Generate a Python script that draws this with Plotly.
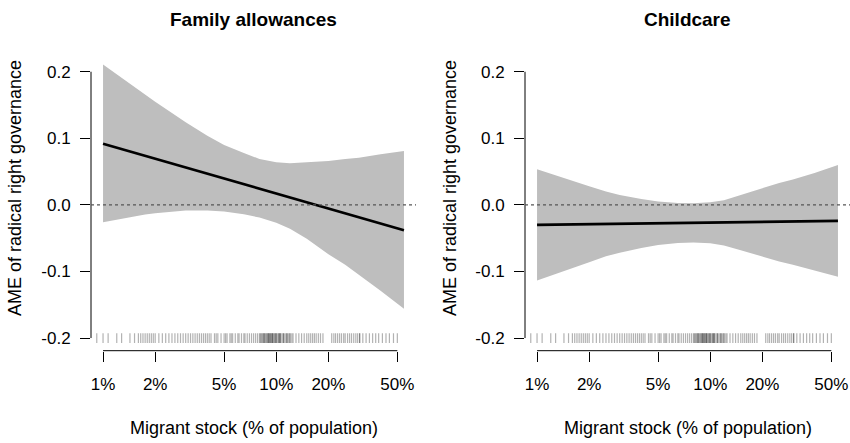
import plotly.graph_objects as go
import math

# ---------------- data ----------------
x_grid = [1, 1.25, 1.5, 1.75, 2, 2.5, 3, 4, 5, 6.5, 8, 10, 12, 15, 20, 25, 30, 40, 54.6]

fam_upper = [0.211, 0.193, 0.177, 0.165, 0.155, 0.138, 0.124, 0.104, 0.090, 0.078, 0.069,
             0.064, 0.0625, 0.064, 0.066, 0.069, 0.071, 0.076, 0.081]
fam_lower = [-0.026, -0.021, -0.017, -0.0145, -0.0125, -0.010, -0.0085, -0.0085, -0.010, -0.014,
             -0.019, -0.027, -0.036, -0.051, -0.074, -0.090, -0.105, -0.129, -0.156]
fam_line_x = [1, 54.6]
fam_line_y = [0.092, -0.038]

cc_upper = [0.0535, 0.045, 0.038, 0.032, 0.028, 0.020, 0.015, 0.009, 0.005, 0.003, 0.0025,
            0.004, 0.007, 0.015, 0.025, 0.033, 0.038, 0.048, 0.060]
cc_lower = [-0.1135, -0.1044, -0.0968, -0.0904, -0.086, -0.0772, -0.0718, -0.0648, -0.0602,
            -0.0574, -0.0563, -0.0575, -0.061, -0.068, -0.078, -0.085, -0.090, -0.099, -0.108]
cc_line_x = [1, 54.6]
cc_line_y = [-0.030, -0.024]

rug_x = [0.92, 1.0, 1.07, 1.2, 1.28, 1.43, 1.52,
         1.6, 1.65, 1.7, 1.75, 1.8, 1.85, 1.9, 1.95, 2.0, 2.1, 2.2, 2.3, 2.4, 2.5, 2.6,
         2.7, 2.8, 2.9, 3.0,
         3.1, 3.2, 3.3, 3.4, 3.5, 3.6, 3.7, 3.8, 3.9, 4.0, 4.1, 4.2, 4.4, 4.5, 4.6, 4.8,
         5.0, 5.1, 5.2, 5.4, 5.5, 5.6, 5.8, 6.0, 6.1, 6.3, 6.5, 6.6, 6.8, 7.0, 7.2, 7.4,
         7.6, 7.8,
         8.0, 8.1, 8.2, 8.3, 8.4, 8.5, 8.6, 8.7, 8.8, 8.9, 9.0, 9.1, 9.2, 9.3, 9.4, 9.5,
         9.6, 9.7, 9.8, 9.9, 10.0, 10.2, 10.4, 10.5, 10.6, 10.8, 11.0, 11.2, 11.4, 11.6,
         11.8, 12.0, 12.3, 12.5, 8.5, 9.0, 9.5, 10.0, 10.5, 11.0, 11.5, 12.0, 9.2, 10.3,
         13.0, 13.5, 14.0, 14.5, 15.0, 15.4, 15.8, 16.2, 16.6, 17.0, 17.5, 18.0, 18.6,
         20.9, 21.5, 22.0, 22.6, 23.2, 23.8, 24.5, 25.0, 25.8, 26.5, 27.2, 28.0, 28.8,
         29.5, 30.3, 30.3,
         31.6, 33.0, 34.5, 36.0, 37.5, 39.0, 41.0, 43.0, 45.0, 47.5, 50.0]

x_tickvals = [1, 2, 5, 10, 20, 50]
x_ticktext = ["1%", "2%", "5%", "10%", "20%", "50%"]
y_tickvals = [-0.2, -0.1, 0.0, 0.1, 0.2]
y_ticktext = ["-0.2", "-0.1", "0.0", "0.1", "0.2"]

titles = ["Family allowances", "Childcare"]
x_title = "Migrant stock (% of population)"
y_title = "AME of radical right governance"

# ---------------- layout helpers ----------------
W, H = 850, 443
FONT = "Liberation Sans, Arial, Helvetica, sans-serif"
XR = [-0.0695, math.log10(54.6) + 0.0695]
YR = [-0.219, 0.228]
ydom = [1 - 350.7 / H, 1 - 53.1 / H]
xdoms = [[91 / W, 416 / W], [525 / W, 1.0]]


def dom_frac(v):
    return (math.log10(v) - XR[0]) / (XR[1] - XR[0])


fig = go.Figure()
panels = [(fam_upper, fam_lower, fam_line_x, fam_line_y),
          (cc_upper, cc_lower, cc_line_x, cc_line_y)]

RUG_COL = "rgba(0,0,0,0.3)"
for i, (up, lo, lx, ly) in enumerate(panels):
    xa = "x" if i == 0 else "x2"
    ya = "y" if i == 0 else "y2"
    fig.add_trace(go.Scatter(x=x_grid, y=lo, xaxis=xa, yaxis=ya, mode="lines",
                             line=dict(width=0, color="#bebebe"), showlegend=False,
                             hoverinfo="skip"))
    fig.add_trace(go.Scatter(x=x_grid, y=up, xaxis=xa, yaxis=ya, mode="lines",
                             fill="tonexty", fillcolor="#bebebe",
                             line=dict(width=0, color="#bebebe"), showlegend=False,
                             hoverinfo="skip"))
    fig.add_trace(go.Scatter(x=lx, y=ly, xaxis=xa, yaxis=ya, mode="lines",
                             line=dict(width=2.6, color="black"), showlegend=False))
    fig.add_trace(go.Scatter(x=rug_x, y=[-0.2] * len(rug_x), xaxis=xa, yaxis=ya,
                             mode="markers",
                             marker=dict(symbol="line-ns-open", size=7, color=RUG_COL,
                                         line=dict(width=1.2, color=RUG_COL)),
                             showlegend=False, hoverinfo="skip"))

axis_common_x = dict(type="log", range=XR, tickvals=x_tickvals, ticktext=x_ticktext,
                     showgrid=False, zeroline=False, showline=False, ticks="outside",
                     ticklen=10, tickwidth=1, tickcolor="black",
                     tickfont=dict(family=FONT, size=17, color="black"),
                     ticklabelstandoff=8, fixedrange=True)
axis_common_y = dict(range=YR, tickvals=y_tickvals, ticktext=y_ticktext, domain=ydom,
                     showgrid=False, zeroline=False, showline=False, ticks="outside",
                     ticklen=10, tickwidth=1, tickcolor="black",
                     tickfont=dict(family=FONT, size=17, color="black"),
                     ticklabelstandoff=6, fixedrange=True)

fig.update_layout(
    width=W, height=H, margin=dict(l=0, r=0, t=0, b=0),
    paper_bgcolor="white", plot_bgcolor="white", showlegend=False,
    xaxis=dict(domain=xdoms[0], anchor="y", **axis_common_x),
    yaxis=dict(anchor="x", **axis_common_y),
    xaxis2=dict(domain=xdoms[1], anchor="y2", **axis_common_x),
    yaxis2=dict(anchor="x2", **axis_common_y),
)

shapes = []
annotations = []
for i in range(2):
    xs = "x" if i == 0 else "x2"
    ys = "y" if i == 0 else "y2"
    shapes.append(dict(type="line", xref=xs + " domain", yref=ys, x0=0, x1=0,
                       y0=y_tickvals[0], y1=y_tickvals[-1],
                       line=dict(color="black", width=1)))
    shapes.append(dict(type="line", xref=xs + " domain", yref=ys + " domain",
                       x0=dom_frac(x_tickvals[0]), x1=dom_frac(x_tickvals[-1]), y0=0, y1=0,
                       line=dict(color="black", width=1)))
    shapes.append(dict(type="line", xref=xs + " domain", yref=ys, x0=0, x1=1, y0=0, y1=0,
                       line=dict(color="#555555", width=1.2, dash="dot")))
    cx = (xdoms[i][0] + xdoms[i][1]) / 2
    annotations.append(dict(text="<b>" + titles[i] + "</b>", xref="paper", yref="paper",
                            x=cx, y=1 - 19 / H, xanchor="center", yanchor="middle",
                            showarrow=False, font=dict(family=FONT, size=19, color="black")))
    annotations.append(dict(text=x_title, xref="paper", yref="paper",
                            x=cx, y=1 - 428 / H, xanchor="center", yanchor="middle",
                            showarrow=False, font=dict(family=FONT, size=18, color="black")))
    annotations.append(dict(text=y_title, xref="paper", yref="paper",
                            x=(15 if i == 0 else 450) / W, y=1 - 188 / H,
                            xanchor="center", yanchor="middle", textangle=-90,
                            showarrow=False, font=dict(family=FONT, size=18, color="black")))

fig.update_layout(shapes=shapes, annotations=annotations)
fig.write_html("out.html", config={"displayModeBar": False},
               post_script="document.body.style.margin='0';document.body.style.overflow='hidden';")
